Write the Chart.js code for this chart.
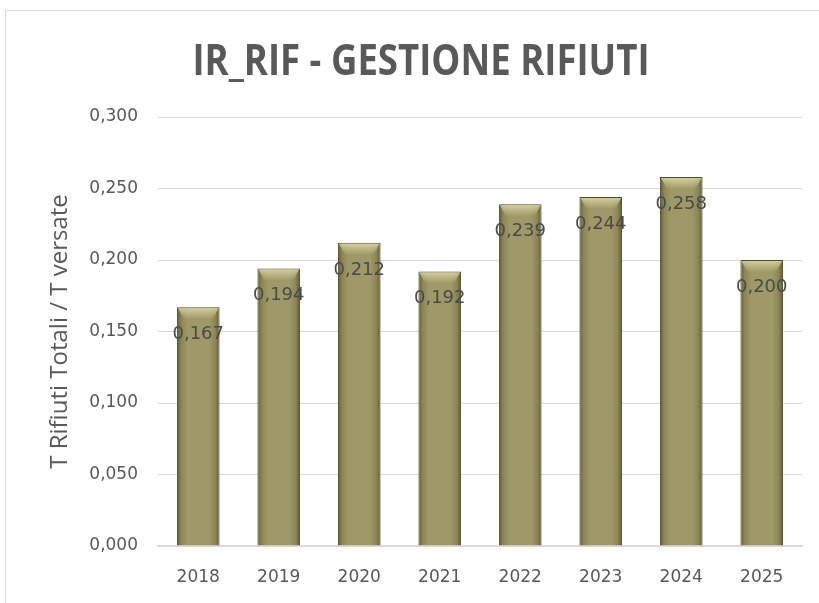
<!DOCTYPE html>
<html>
<head>
<meta charset="utf-8">
<script src="https://cdn.jsdelivr.net/npm/chart.js@4.4.0/dist/chart.umd.min.js"></script>
<style>
  html, body { margin: 0; padding: 0; background: #fff; }
  #frame { position: absolute; left: 5px; top: 10px; width: 830px; height: 620px; border: 1px solid #d9d9d9; box-sizing: border-box; }
  #wrap { position: absolute; left: 0; top: 0; width: 819px; height: 603px; }
</style>
</head>
<body>
<div id="frame"></div>
<div id="wrap"><canvas id="c" width="819" height="603"></canvas></div>
<script>
const years = ['2018', '2019', '2020', '2021', '2022', '2023', '2024', '2025'];
const ratios = [0.167, 0.194, 0.212, 0.192, 0.239, 0.244, 0.258, 0.200];
const yTicks = [0, 0.05, 0.1, 0.15, 0.2, 0.25, 0.3];
const titleText = 'IR_RIF - GESTIONE RIFIUTI';

const fmt = v => v.toFixed(3).replace('.', ',');
const tickFont = { family: '"DejaVu Sans", sans-serif', size: 17 };

// olive bars with a soft bevel look
function barFill(ctx) {
  const chart = ctx.chart;
  const meta = chart.getDatasetMeta(0);
  const el = meta && meta.data[ctx.dataIndex];
  if (!el || !Number.isFinite(el.x) || !Number.isFinite(el.width)) return '#9a9563';
  const half = el.width / 2;
  const g = chart.ctx.createLinearGradient(el.x - half, 0, el.x + half, 0);
  g.addColorStop(0, '#5f5b36');
  g.addColorStop(0.1, '#8c8657');
  g.addColorStop(0.25, '#9e9966');
  g.addColorStop(0.75, '#9e9966');
  g.addColorStop(0.9, '#8c8657');
  g.addColorStop(1, '#5c5834');
  return g;
}

// condensed bold title, like the original
const titlePlugin = {
  id: 'bigTitle',
  afterDraw(chart) {
    const { ctx } = chart;
    ctx.save();
    ctx.font = 'bold 43px "Open Sans", sans-serif';
    const w = ctx.measureText(titleText).width;
    ctx.translate(421, 75);
    ctx.scale(457 / w, 1);
    ctx.fillStyle = '#595959';
    ctx.textAlign = 'center';
    ctx.textBaseline = 'alphabetic';
    ctx.fillText(titleText, 0, 0);
    ctx.restore();
  }
};

const valueLabels = {
  id: 'valueLabels',
  afterDatasetsDraw(chart) {
    const { ctx } = chart;
    const meta = chart.getDatasetMeta(0);
    ctx.save();
    // top bevel highlight
    meta.data.forEach(bar => {
      const half = bar.width / 2;
      const g = ctx.createLinearGradient(0, bar.y, 0, bar.y + 12);
      g.addColorStop(0, 'rgba(225,220,170,0.85)');
      g.addColorStop(1, 'rgba(225,220,170,0)');
      ctx.fillStyle = g;
      ctx.beginPath();
      ctx.moveTo(bar.x - half + 1, bar.y + 1);
      ctx.lineTo(bar.x + half - 1, bar.y + 1);
      ctx.lineTo(bar.x + half - 7, bar.y + 12);
      ctx.lineTo(bar.x - half + 7, bar.y + 12);
      ctx.closePath();
      ctx.fill();
    });
    ctx.font = '18px "DejaVu Sans", sans-serif';
    ctx.fillStyle = '#4a4a4a';
    ctx.textAlign = 'center';
    ctx.textBaseline = 'middle';
    meta.data.forEach((bar, i) => {
      ctx.fillText(fmt(ratios[i]), bar.x, bar.y + 27);
    });
    ctx.restore();
  }
};

const chart = new Chart(document.getElementById('c'), {
  type: 'bar',
  data: {
    labels: years,
    datasets: [{
      data: ratios,
      backgroundColor: '#9a9563',
      borderColor: '#4f4b2a',
      borderWidth: 1,
      categoryPercentage: 1,
      barPercentage: 0.53
    }]
  },
  options: {
    responsive: false,
    animation: false,
    devicePixelRatio: 1,
    layout: { padding: { left: 0, right: 17, top: 117, bottom: 0 } },
    plugins: {
      legend: { display: false },
      tooltip: { enabled: false },
      title: { display: false }
    },
    scales: {
      x: {
        grid: { display: false, drawTicks: false },
        border: { color: '#d9d9d9', width: 2 },
        ticks: { color: '#595959', font: tickFont, padding: 21 },
        afterFit: s => { s.height = 57; }
      },
      y: {
        min: 0,
        max: 0.3,
        afterBuildTicks: axis => { axis.ticks = yTicks.map(v => ({ value: v })); },
        grid: { color: '#d9d9d9', drawTicks: false },
        border: { display: false },
        ticks: { color: '#595959', font: tickFont, padding: 20, callback: v => fmt(v) },
        title: {
          display: true,
          text: 'T Rifiuti Totali / T versate',
          color: '#595959',
          font: { family: '"Open Sans", sans-serif', size: 24 },
          padding: { top: 46, bottom: 0 }
        },
        afterFit: s => { s.width = 158; }
      }
    }
  },
  plugins: [valueLabels, titlePlugin]
});
// apply the bevel gradient once the bars have their geometry
chart.data.datasets[0].backgroundColor = barFill;
chart.update();
</script>
</body>
</html>
